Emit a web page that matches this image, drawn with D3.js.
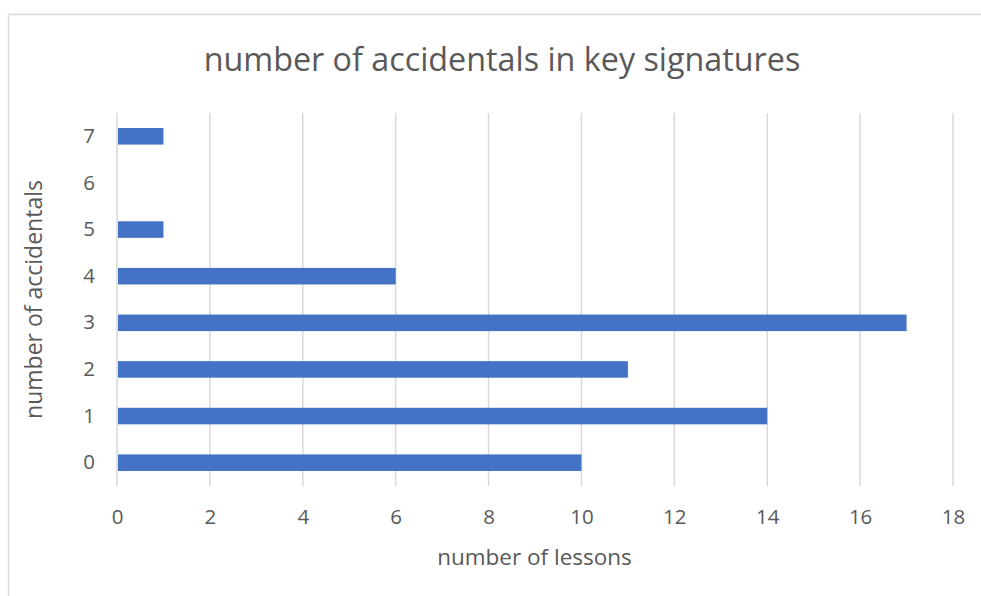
<!DOCTYPE html>
<html>
<head>
<meta charset="utf-8">
<script src="https://cdn.jsdelivr.net/npm/d3@7"></script>
<style>
  html, body { margin: 0; padding: 0; background: #fff; }
  svg { display: block; }
  text { font-family: "Open Sans", "Noto Sans", sans-serif; fill: #595959; }
</style>
</head>
<body>
<svg id="chart" width="981" height="596"></svg>
<script>
// Number of accidentals in the key signature, and how many lessons use each.
const categories = ["0", "1", "2", "3", "4", "5", "6", "7"];
const lessons = [10, 14, 11, 17, 6, 1, 0, 1];
const xTicks = [0, 2, 4, 6, 8, 10, 12, 14, 16, 18];

const titleText = "number of accidentals in key signatures";
const xTitle = "number of lessons";
const yTitle = "number of accidentals";

const svg = d3.select("#chart");
const W = 981, H = 596;
const plot = { left: 117, right: 953, top: 113, bottom: 486 };

// Chart frame
svg.append("rect")
  .attr("x", 8.5).attr("y", 14.5)
  .attr("width", W + 10).attr("height", H + 10)
  .attr("fill", "#fff").attr("stroke", "#d9d9d9").attr("stroke-width", 1.5);

const x = d3.scaleLinear().domain([0, 18]).range([plot.left, plot.right]);
const y = d3.scaleBand().domain(categories).range([plot.bottom, plot.top]).paddingInner(0.645).paddingOuter(0.3225);

// Vertical gridlines
svg.append("g").selectAll("line").data(xTicks).join("line")
  .attr("x1", d => x(d)).attr("x2", d => x(d))
  .attr("y1", plot.top).attr("y2", plot.bottom)
  .attr("stroke", "#d9d9d9").attr("stroke-width", 1.5);

// Bars
svg.append("g").selectAll("rect").data(categories).join("rect")
  .attr("x", x(0) + 1)
  .attr("y", d => y(d))
  .attr("width", (d, i) => Math.max(0, x(lessons[i]) - x(0) - 1))
  .attr("height", y.bandwidth())
  .attr("fill", "#4472c4");

// X axis tick labels
const xAxis = d3.axisBottom(x).tickValues(xTicks).tickSize(0).tickPadding(0).tickFormat(d3.format("d"));
const gx = svg.append("g").attr("transform", `translate(0,${plot.bottom + 23})`).call(xAxis);
gx.select(".domain").remove();
gx.attr("font-size", 20.5).attr("font-family", null);
gx.selectAll("text").attr("fill", "#595959");

// Y axis tick labels
const yAxis = d3.axisLeft(y).tickSize(0).tickPadding(0);
const gy = svg.append("g").attr("transform", `translate(${plot.left - 22},0)`).call(yAxis);
gy.select(".domain").remove();
gy.attr("font-size", 20.5).attr("font-family", null);
gy.selectAll("text").attr("fill", "#595959");

// Titles
svg.append("text").attr("x", 502).attr("y", 71)
  .attr("text-anchor", "middle").attr("font-size", 32.3).text(titleText);

svg.append("text").attr("x", (plot.left + plot.right) / 2 - 0.5).attr("y", 565)
  .attr("text-anchor", "middle").attr("font-size", 22.5).text(xTitle);

svg.append("text")
  .attr("transform", `translate(42,${(plot.top + plot.bottom) / 2}) rotate(-90)`)
  .attr("text-anchor", "middle").attr("font-size", 23).text(yTitle);
</script>
</body>
</html>
